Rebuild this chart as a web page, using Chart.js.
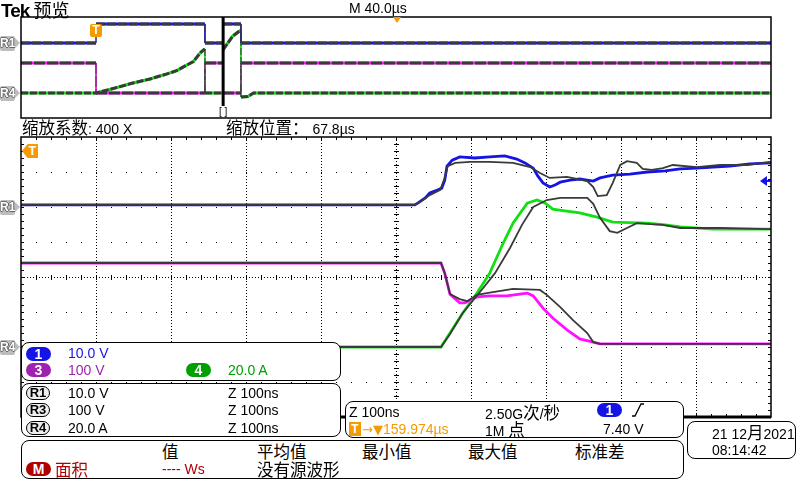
<!DOCTYPE html>
<html>
<head>
<meta charset="utf-8">
<script src="https://cdn.jsdelivr.net/npm/chart.js@4.4.1/dist/chart.umd.min.js"></script>
<style>
body{margin:0;width:800px;height:480px;background:#fff;position:relative;overflow:hidden;font-family:"Liberation Sans","Noto Sans CJK SC",sans-serif;font-size:14px;color:#000}
canvas{position:absolute}
.box{position:absolute;border:1px solid #000;border-radius:8px;background:#fff;box-sizing:border-box}
.t{position:absolute;white-space:nowrap;line-height:18px;height:18px}
.cj{font-family:"Noto Sans CJK SC",sans-serif;font-size:16.5px}
.pill{position:absolute;width:25px;height:14px;border-radius:7px;color:#fff;font-weight:bold;text-align:center;line-height:14px;font-size:14px}
.ref{position:absolute;width:22px;height:12px;border:1.5px solid #000;border-radius:7px;background:#eee;text-align:center;line-height:12px;font-weight:bold;font-size:13px}
.rm{position:absolute;left:0;width:15px;height:15px;background:#bdbdbd;color:#fff;font:bold 12px "Liberation Sans";line-height:15px;text-align:center;border-radius:2px;text-shadow:-1px 0 #666,1px 0 #666,0 -1px #666,0 1px #666}
.rm::after{content:'';position:absolute;left:15px;top:2px;border-left:5px solid #bdbdbd;border-top:5.5px solid transparent;border-bottom:5.5px solid transparent}
</style>
</head>
<body>
<canvas id="overview" width="760" height="111" style="left:16px;top:12px"></canvas>
<canvas id="main" width="760" height="290" style="left:16px;top:132px"></canvas>

<div class="t" style="left:1px;top:0px;font-weight:bold;font-size:19px;letter-spacing:-1px">Tek <span class="cj" style="font-weight:normal;font-size:18px;letter-spacing:0">预览</span></div>
<div class="t" style="left:349px;top:-1px">M 40.0µs</div>
<div style="position:absolute;left:393px;top:17px;border-top:6px solid #f59a00;border-left:4px solid transparent;border-right:4px solid transparent"></div>
<div style="position:absolute;left:90px;top:24px;width:12px;height:13px;border-radius:2px;background:#f59a00;color:#fff;font:bold 12px 'Liberation Sans';line-height:13px;text-align:center">T</div>
<div class="t" style="left:219px;top:103px;font-size:10px">[ ]</div>
<div class="rm" style="top:36px">R1</div>
<div class="rm" style="top:86px">R4</div>

<div class="t" style="left:22px;top:118px"><span class="cj">缩放系数</span>: 400 X</div>
<div class="t" style="left:226px;top:118px"><span class="cj">缩放位置：</span> 67.8µs</div>

<div style="position:absolute;left:22px;top:144px;width:16px;height:14px;background:#f59a00;clip-path:polygon(35% 0,100% 0,100% 100%,35% 100%,0 50%);color:#fff;font:bold 12px 'Liberation Sans';line-height:14px;text-align:right;padding-right:2px;box-sizing:border-box">T</div>
<div style="position:absolute;left:760px;top:176px;border-right:7px solid #1414e6;border-top:5.5px solid transparent;border-bottom:5.5px solid transparent"></div>
<div style="position:absolute;left:766px;top:180px;width:6px;height:2px;background:#1414e6"></div>
<div class="rm" style="top:200px">R1</div>
<div class="rm" style="top:340px">R4</div>

<div class="box" style="left:21px;top:342px;width:320px;height:39px"></div>
<div class="pill" style="left:26px;top:347px;background:#1414e6">1</div>
<div class="t" style="left:68px;top:344px;color:#1414e6">10.0 V</div>
<div class="pill" style="left:26px;top:363px;background:#a020b0">3</div>
<div class="t" style="left:68px;top:361px;color:#a020b0">100 V</div>
<div class="pill" style="left:186px;top:363px;background:#00a000">4</div>
<div class="t" style="left:228px;top:361px;color:#00a000">20.0 A</div>

<div class="box" style="left:21px;top:383px;width:320px;height:54px"></div>
<div class="ref" style="left:26px;top:386px">R1</div>
<div class="t" style="left:68px;top:384px">10.0 V</div>
<div class="t" style="left:228px;top:384px">Z 100ns</div>
<div class="ref" style="left:26px;top:403px">R3</div>
<div class="t" style="left:68px;top:401px">100 V</div>
<div class="t" style="left:228px;top:401px">Z 100ns</div>
<div class="ref" style="left:26px;top:421px">R4</div>
<div class="t" style="left:68px;top:419px">20.0 A</div>
<div class="t" style="left:228px;top:419px">Z 100ns</div>

<div class="box" style="left:21px;top:440px;width:663px;height:39px"></div>
<div class="t cj" style="left:162px;top:442px">值</div>
<div class="t cj" style="left:257px;top:442px">平均值</div>
<div class="t cj" style="left:362px;top:442px">最小值</div>
<div class="t cj" style="left:468px;top:442px">最大值</div>
<div class="t cj" style="left:575px;top:442px">标准差</div>
<div class="pill" style="left:26px;top:462px;background:#b00000">M</div>
<div class="t cj" style="left:55px;top:460px;color:#b00000">面积</div>
<div class="t" style="left:162px;top:460px;color:#b00000">---- Ws</div>
<div class="t cj" style="left:257px;top:460px">没有源波形</div>

<div class="box" style="left:345px;top:401px;width:339px;height:37px"></div>
<div class="t" style="left:349px;top:403px">Z 100ns</div>
<div class="t" style="left:485px;top:403px">2.50G<span class="cj">次</span>/<span class="cj">秒</span></div>
<div class="pill" style="left:597px;top:403px;background:#1414e6">1</div>
<svg style="position:absolute;left:631px;top:403px" width="14" height="14"><polyline points="1,13 4,13 10,1 13,1" fill="none" stroke="#000" stroke-width="1.3"/></svg>
<div style="position:absolute;left:349px;top:422px;width:12px;height:14px;background:#f59a00;color:#fff;font:bold 12px 'Liberation Sans';line-height:14px;text-align:center">T</div>
<div class="t" style="left:362px;top:420px;color:#f59a00"><span style="font-family:'DejaVu Sans';font-size:13px">→▼</span>159.974µs</div>
<div class="t" style="left:485px;top:420px">1M <span class="cj">点</span></div>
<div class="t" style="left:603px;top:420px">7.40 V</div>

<div class="box" style="left:687px;top:421px;width:109px;height:38px"></div>
<div class="t" style="left:712px;top:423px">21 12<span class="cj">月</span>2021</div>
<div class="t" style="left:712px;top:441px">08:14:42</div>

<script>
// overview record: time in us (40 us/div), level in divisions
const trigTime = 40;
const zoomPos = 67.8;
const ovR1T = [0, 40, 40, 98.1, 98.1, 107.7, 107.7, 117.3, 117.3, 400];
const ovR1V = [1.94, 1.94, 3.45, 3.45, 1.94, 1.94, 3.45, 3.45, 1.94, 1.94];
const ovR3T = [0, 40, 40, 98.1, 98.1, 107.7, 107.7, 117.3, 117.3, 400];
const ovR3V = [0.36, 0.36, -2.02, -2.02, 0.36, 0.36, -2.02, -2.02, 0.36, 0.36];
const ovR4T = [0, 40, 47.5, 59.7, 68.8, 77.9, 83, 88.5, 91.9, 95.5, 98.1, 98.1, 107.7, 107.7, 113, 117.3, 117.3, 121, 124, 400];
const ovR4V = [-2.02, -2.02, -1.73, -1.23, -0.91, -0.51, -0.25, 0.2, 0.46, 1.15, 1.47, -2.02, -2.02, 1.39, 2.5, 2.97, -2.34, -2.3, -2.02, -2.02];

// zoomed window: time in ns (100 ns/div), level in divisions
const ch1T = [0, 525, 529, 539, 545, 556, 561, 565, 568, 575, 585, 605, 625, 645, 661, 672, 683, 689, 696, 705, 712, 719, 732, 745, 763, 772, 789, 812, 835, 859, 879, 901, 923, 945, 972, 1000];
const ch1V = [2.06, 2.06, 2.11, 2.26, 2.4, 2.49, 2.54, 2.77, 3.17, 3.34, 3.43, 3.4, 3.43, 3.46, 3.37, 3.26, 3.11, 2.89, 2.69, 2.57, 2.63, 2.71, 2.77, 2.8, 2.74, 2.83, 2.91, 2.94, 3.0, 3.03, 3.09, 3.11, 3.14, 3.17, 3.23, 3.26];
const r1T = [0, 525, 532, 545, 559, 565, 569, 579, 599, 625, 656, 679, 692, 705, 728, 755, 763, 769, 781, 789, 799, 808, 821, 829, 841, 856, 869, 901, 932, 968, 1000];
const r1V = [2.06, 2.06, 2.14, 2.34, 2.49, 2.83, 3.17, 3.26, 3.29, 3.29, 3.26, 3.14, 2.97, 2.83, 2.86, 2.74, 2.57, 2.31, 2.34, 2.69, 3.2, 3.31, 3.26, 3.09, 3.06, 3.11, 3.2, 3.14, 3.2, 3.2, 3.29];
const ch3T = [0, 560, 565, 572, 585, 592, 601, 608, 625, 648, 665, 675, 683, 696, 709, 728, 745, 763, 772, 1000];
const ch3V = [0.4, 0.4, 0.11, -0.49, -0.74, -0.74, -0.63, -0.57, -0.54, -0.54, -0.49, -0.46, -0.54, -0.89, -1.17, -1.51, -1.77, -1.86, -1.91, -1.91];
const r3T = [0, 560, 565, 572, 585, 595, 608, 621, 656, 692, 701, 719, 736, 755, 763, 772, 1000];
const r3V = [0.4, 0.4, 0.11, -0.49, -0.63, -0.69, -0.51, -0.46, -0.34, -0.37, -0.51, -0.86, -1.23, -1.6, -1.86, -1.91, -1.91];
const ch4T = [0, 560, 572, 589, 608, 625, 643, 656, 675, 688, 699, 709, 725, 745, 768, 789, 835, 859, 879, 923, 1000];
const ch4V = [-2.0, -2.0, -1.6, -1.03, -0.46, 0.11, 0.97, 1.54, 2.11, 2.2, 2.11, 1.94, 1.89, 1.83, 1.71, 1.57, 1.54, 1.49, 1.43, 1.37, 1.37];
const r4T = [0, 560, 572, 589, 612, 632, 652, 668, 683, 701, 719, 755, 763, 772, 785, 795, 808, 821, 839, 856, 879, 932, 1000];
const r4V = [-2.0, -2.0, -1.63, -1.03, -0.43, 0.11, 0.83, 1.49, 2.0, 2.2, 2.26, 2.26, 2.09, 1.69, 1.31, 1.26, 1.4, 1.54, 1.51, 1.49, 1.4, 1.4, 1.37];

const BLUE = '#1414e6', MAG = '#ff10ff', GREEN = '#10e010', REF = '#3a3a3a';

function pts(ts, vs) {
	return ts.map((t, i) => ({x: t, y: vs[i]}));
}
// note: chart.js paints the first dataset on top
function trace(ts, vs, color, w, dash) {
	return {
		data: pts(ts, vs), borderColor: color, borderWidth: w, borderDash: dash || [],
		pointRadius: 0, tension: 0, fill: false,
		segment: {borderWidth: ctx => ctx.p0.parsed.x === ctx.p1.parsed.x ? 1 : w}
	};
}

// frame + zoom bar for the overview strip
const overviewDeco = {
	id: 'overviewDeco',
	afterDatasetsDraw(c) {
		const {ctx, chartArea: a, scales: {x}} = c;
		ctx.save();
		ctx.strokeStyle = '#000';
		ctx.lineWidth = 1.5;
		ctx.strokeRect(a.left, a.top, a.right - a.left, a.bottom - a.top);
		const bx = x.getPixelForValue(trigTime + zoomPos);
		ctx.fillStyle = '#000';
		ctx.fillRect(bx - 1.5, a.top, 3, a.bottom - a.top - 12);
		ctx.restore();
	}
};

// Tek style dotted graticule for the zoom window
const graticule = {
	id: 'graticule',
	beforeDatasetsDraw(c) {
		const {ctx, chartArea: a, scales: {x, y}} = c;
		ctx.save();
		ctx.fillStyle = '#000';
		const px = v => Math.round(x.getPixelForValue(v));
		const py = v => Math.round(y.getPixelForValue(v));
		for (let d = -3; d <= 3; d++) {
			if (d === 0) continue;
			for (let t = 20; t < 1000; t += 20) ctx.fillRect(px(t), py(d), 1, 1);
		}
		for (let t = 100; t < 1000; t += 100) {
			for (let yy = a.top; yy < a.bottom; yy += 3) ctx.fillRect(px(t), yy, 1, 1);
		}
		const cy = py(0), cx = px(500);
		for (let xx = a.left; xx < a.right; xx += 3) ctx.fillRect(xx, cy, 1, 1);
		for (let t = 20; t < 1000; t += 20) ctx.fillRect(px(t), cy - 2, 1, 5);
		for (let d = -3.8; d < 4; d += 0.2) ctx.fillRect(cx - 2, py(d), 5, 1);
		// edge ticks
		for (let t = 20; t < 1000; t += 20) {
			ctx.fillRect(px(t), a.top, 1, 3);
			ctx.fillRect(px(t), a.bottom - 3, 1, 3);
		}
		for (let d = -3.8; d < 4; d += 0.2) {
			ctx.fillRect(a.left, py(d), 3, 1);
			ctx.fillRect(a.right - 3, py(d), 3, 1);
		}
		ctx.restore();
	},
	afterDatasetsDraw(c) {
		const {ctx, chartArea: a} = c;
		ctx.save();
		ctx.strokeStyle = '#000';
		ctx.lineWidth = 1.5;
		ctx.strokeRect(a.left, a.top, a.right - a.left, a.bottom - a.top);
		ctx.fillRect(a.left, a.bottom - 1.5, a.right - a.left, 3);
		ctx.restore();
	}
};

const baseOpts = (xmax) => ({
	responsive: false,
	animation: false,
	layout: {padding: 5},
	plugins: {legend: {display: false}, tooltip: {enabled: false}},
	scales: {
		x: {type: 'linear', min: 0, max: xmax, display: false},
		y: {type: 'linear', min: -4, max: 4, display: false}
	}
});

const overviewChart = new Chart(document.getElementById('overview'), {
	type: 'line',
	data: {datasets: [
		trace(ovR1T, ovR1V, REF, 3, [9, 2]),
		trace(ovR3T, ovR3V, REF, 3, [11, 2]),
		trace(ovR4T, ovR4V, REF, 3, [7, 2]),
		trace(ovR1T, ovR1V, BLUE, 3),
		trace(ovR3T, ovR3V, MAG, 3),
		trace(ovR4T, ovR4V, GREEN, 3)
	]},
	options: baseOpts(400),
	plugins: [overviewDeco]
});

const mainChart = new Chart(document.getElementById('main'), {
	type: 'line',
	data: {datasets: [
		trace(r1T, r1V, REF, 1.8),
		trace(r3T, r3V, REF, 1.8),
		trace(r4T, r4V, REF, 1.8),
		trace(ch1T, ch1V, BLUE, 2.8),
		trace(ch3T, ch3V, MAG, 2.8),
		trace(ch4T, ch4V, GREEN, 2.8)
	]},
	options: baseOpts(1000),
	plugins: [graticule]
});
</script>
</body>
</html>
